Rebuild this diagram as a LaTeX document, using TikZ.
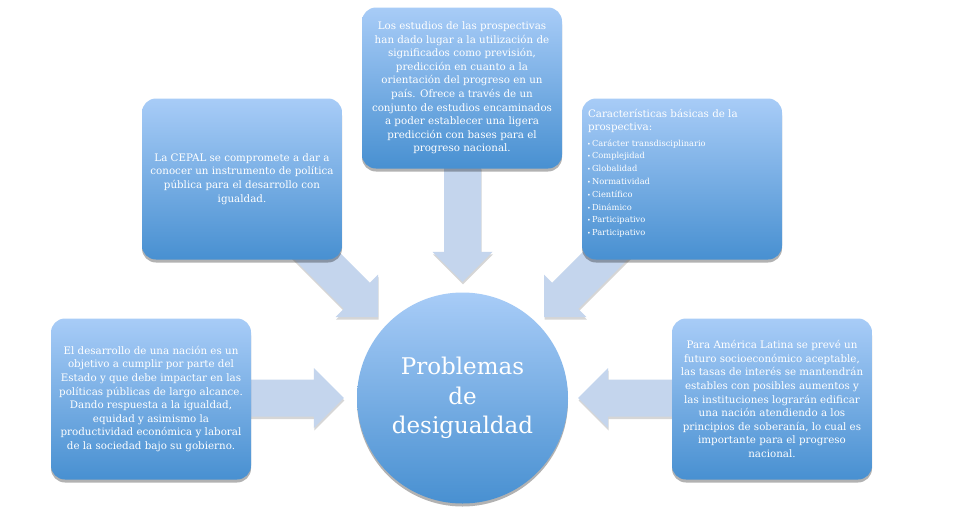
\documentclass[tikz,border=0pt]{standalone}
\usepackage{fontspec}
\setmainfont{DejaVu Serif}
\usetikzlibrary{shadows,backgrounds,calc}
\definecolor{boxtop}{RGB}{168,204,247}
\definecolor{boxbot}{RGB}{72,144,209}
\definecolor{arrowfill}{RGB}{196,213,237}
\tikzset{
  infobox/.style={rounded corners=14pt, minimum width=200pt, minimum height=161pt,
    inner sep=0pt, top color=boxtop, bottom color=boxbot, draw=none, text=white,
    align=center, font=\fontsize{10.3}{13.6}\selectfont,
    drop shadow={shadow xshift=0pt, shadow yshift=-3pt, opacity=.3, fill=black}},
  hubcircle/.style={circle, minimum size=211pt, inner sep=0pt, top color=boxtop,
    bottom color=boxbot, draw=none, text=white, align=center,
    font=\fontsize{23}{29.5}\selectfont,
    drop shadow={shadow xshift=0pt, shadow yshift=-3pt, opacity=.3, fill=black}},
  listtext/.style={inner sep=0pt, text=white, align=left}
}
\newcommand{\blockarrow}[3]{%
  \fill[black, opacity=.16, shift={($(#1)+(0.5,2.5)$)}, rotate=#2]
    (0,0) -- (-30,30) -- (-30,18.5) -- (-#3,18.5) -- (-#3,-18.5) -- (-30,-18.5) -- (-30,-30) -- cycle;
  \fill[arrowfill, shift={(#1)}, rotate=#2]
    (0,0) -- (-30,30) -- (-30,18.5) -- (-#3,18.5) -- (-#3,-18.5) -- (-30,-18.5) -- (-30,-30) -- cycle;}
\newcommand{\blt}{{\scalebox{.75}{•}}\,}
\begin{document}
\begin{tikzpicture}[x=1pt,y=-1pt]
\useasboundingbox (0,0) rectangle (972,531);

\node[hubcircle] (c) at (462.5,398) {Problemas\\de\\desigualdad};

\node[infobox] (top) at (462,88) {Los estudios de las prospectivas\\
han dado lugar a la utilización de\\
significados como previsión,\\
predicción en cuanto a la\\
orientación del progreso en un\\
país. Ofrece a través de un\\
conjunto de estudios encaminados\\
a poder establecer una ligera\\
predicción con bases para el\\
progreso nacional.};

\node[infobox] (ul) at (242,179) {La CEPAL se compromete a dar a\\
conocer un instrumento de política\\
pública para el desarrollo con\\
igualdad.};

\node[infobox] (ur) at (682,179) {};
\node[listtext, anchor=north west, font=\fontsize{10.3}{13}\selectfont] (urt) at ($(ur.north west)+(6,11)$)
  {Características básicas de la\\prospectiva:};
\node[listtext, anchor=north west, font=\fontsize{8.3}{12.8}\selectfont] (url) at ($(ur.north west)+(5,41)$)
  {\blt Carácter transdisciplinario\\
   \blt Complejidad\\
   \blt Globalidad\\
   \blt Normatividad\\
   \blt Científico\\
   \blt Dinámico\\
   \blt Participativo\\
   \blt Participativo};

\node[infobox] (bl) at (151,399) {El desarrollo de una nación es un\\
objetivo a cumplir por parte del\\
Estado y que debe impactar en las\\
políticas públicas de largo alcance.\\
Dando respuesta a la igualdad,\\
equidad y asimismo la\\
productividad económica y laboral\\
de la sociedad bajo su gobierno.};

\node[infobox] (br) at (772,399) {Para América Latina se prevé un\\
futuro socioeconómico aceptable,\\
las tasas de interés se mantendrán\\
estables con posibles aumentos y\\
las instituciones lograrán edificar\\
una nación atendiendo a los\\
principios de soberanía, lo cual es\\
importante para el progreso\\
nacional.};

\coordinate (ttip) at ($(c.north)+(0,-10.5)$);
\coordinate (ltip) at ($(c.west)+(-13,0)$);
\coordinate (rtip) at ($(c.east)+(10,0)$);
\coordinate (ultip) at ($(c.center)+(-84.5,-81)$);
\coordinate (urtip) at ($(c.center)+(81.5,-81)$);

\begin{scope}[on background layer]
  \fill[white] (0,0) rectangle (972,531);
  \blockarrow{ttip}{-90}{115}
  \blockarrow{ultip}{-45}{110}
  \blockarrow{urtip}{-135}{110}
  \blockarrow{ltip}{0}{95}
  \blockarrow{rtip}{180}{95}
\end{scope}
\end{tikzpicture}
\end{document}
